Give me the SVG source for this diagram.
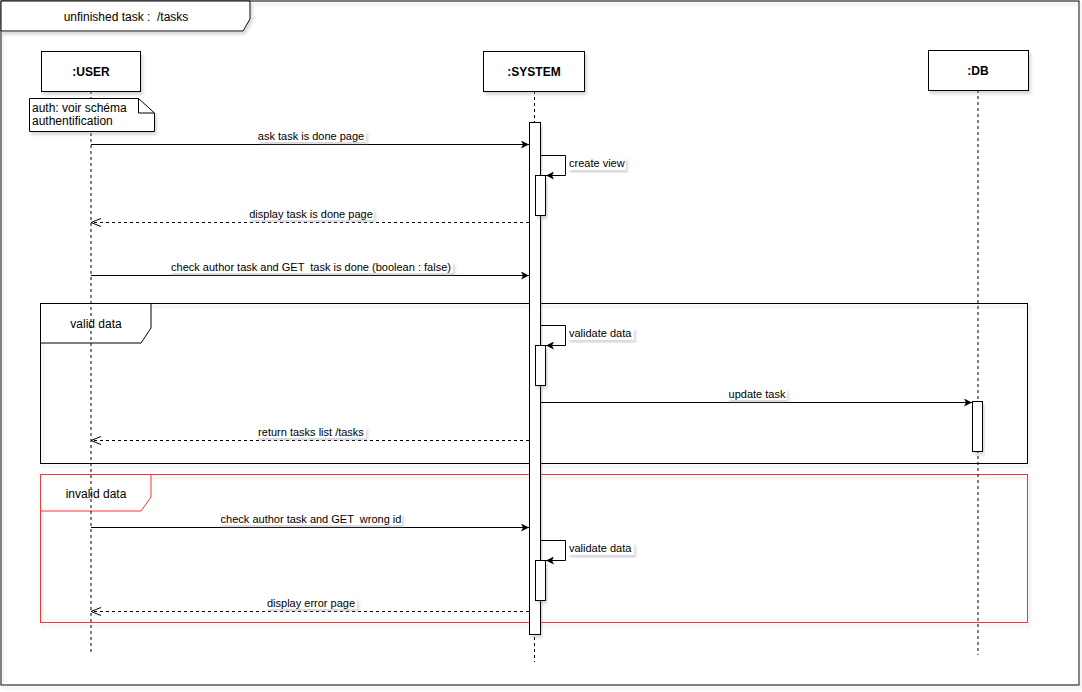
<svg xmlns="http://www.w3.org/2000/svg" width="1082" height="692" viewBox="0 0 1082 692">
<style>
text{font-family:"Liberation Sans",Arial,sans-serif;fill:#000}
.lbl{font-size:11px;text-anchor:middle;white-space:pre}
.slbl{font-size:11px;text-anchor:start}
.big{font-size:12px;text-anchor:middle;white-space:pre}
.bold{font-size:12px;font-weight:bold;text-anchor:middle}
.box{fill:#fff;stroke:#000;stroke-width:1}
.life{stroke:#000;stroke-width:1;stroke-dasharray:3 3;fill:none}
.msg{stroke:#000;stroke-width:1;fill:none}
.ret{stroke:#000;stroke-width:1;stroke-dasharray:3 3;fill:none}
.bg{fill:#fff}
</style>
<defs>
<filter id="sh" x="-20%" y="-20%" width="140%" height="140%">
<feDropShadow dx="2" dy="3" stdDeviation="1.5" flood-color="#808090" flood-opacity="0.3"/>
</filter>
<marker id="blk" viewBox="0 0 10 10" refX="10" refY="5" markerWidth="8" markerHeight="8" markerUnits="userSpaceOnUse" orient="auto">
<path d="M0,0 L10,5 L0,10 L2.5,5 Z" fill="#000"/>
</marker>
<marker id="opn" viewBox="0 0 10 10" refX="10" refY="5" markerWidth="10" markerHeight="10" markerUnits="userSpaceOnUse" orient="auto">
<path d="M0,1 L10,5 L0,9" fill="none" stroke="#000" stroke-width="1"/>
</marker>
</defs>
<rect width="1082" height="692" fill="#fff"/>

<g id="outer-frame">
<rect x="1" y="1" width="1078" height="684" fill="none" stroke="#000" filter="url(#sh)"/>
<path d="M1,1 L250,1 L250,19 L243,31 L1,31 Z" class="box" filter="url(#sh)"/>
<text x="126" y="21" class="big">unfinished task :  /tasks</text>
</g>

<g id="frame-valid">
<rect x="40.5" y="303.5" width="987" height="160" fill="none" stroke="#000" filter="url(#sh)"/>
<path d="M40.5,303.5 L151,303.5 L151,328 L141,343 L40.5,343 Z" class="box"/>
<text x="96" y="328" class="big">valid data</text>
</g>

<g id="frame-invalid">
<rect x="40.5" y="474.5" width="987" height="148" fill="none" stroke="#ff3333" filter="url(#sh)"/>
<path d="M40.5,474.5 L151,474.5 L151,497 L141,511 L40.5,511 Z" fill="#fff" stroke="#ff3333"/>
<text x="96" y="498" class="big">invalid data</text>
</g>

<g id="lifelines">
<line x1="91" y1="91" x2="91" y2="655" class="life"/>
<line x1="534.5" y1="91" x2="534.5" y2="662" class="life"/>
<line x1="978" y1="90" x2="978" y2="655" class="life"/>
</g>

<g id="user">
<rect x="41.5" y="51.5" width="99" height="40" class="box" filter="url(#sh)"/>
<text x="91" y="76" class="bold">:USER</text>
</g>

<g id="system">
<rect x="483.5" y="51.5" width="101" height="40" class="box" filter="url(#sh)"/>
<text x="534" y="76" class="bold">:SYSTEM</text>
</g>

<g id="db">
<rect x="928.5" y="50.5" width="100" height="40" class="box" filter="url(#sh)"/>
<text x="978" y="75" class="bold">:DB</text>
</g>

<g id="note">
<path d="M29.5,98.5 L138.5,98.5 L154.5,113 L154.5,131.5 L29.5,131.5 Z" class="box" filter="url(#sh)"/>
<path d="M138.5,98.5 L138.5,113 L154.5,113" fill="none" stroke="#000"/>
<text x="32" y="112" style="font-size:12px">auth: voir schéma</text>
<text x="32" y="125" style="font-size:12px">authentification</text>
</g>

<g id="activations">
<rect x="529.5" y="122.5" width="11" height="512" class="box" filter="url(#sh)"/>
<rect x="535.5" y="175.5" width="10" height="40" class="box" filter="url(#sh)"/>
<rect x="535.5" y="345.5" width="10" height="40" class="box" filter="url(#sh)"/>
<rect x="535.5" y="560.5" width="10" height="40" class="box" filter="url(#sh)"/>
<rect x="972.5" y="401.5" width="10" height="50" class="box" filter="url(#sh)"/>
</g>

<g id="connectors">
<line x1="91" y1="144.5" x2="529" y2="144.5" class="msg" marker-end="url(#blk)"/>
<rect x="258" y="130" width="108" height="12" class="bg" filter="url(#sh)"/>
<text x="311" y="140" class="lbl">ask task is done page</text>

<path d="M540.5,155.5 L565.5,155.5 L565.5,175.5 L546,175.5" class="msg" marker-end="url(#blk)"/>
<rect x="568" y="157" width="58" height="13" class="bg" filter="url(#sh)"/>
<text x="569" y="167" class="slbl">create view</text>

<line x1="529" y1="222.5" x2="91" y2="222.5" class="ret" marker-end="url(#opn)"/>
<rect x="248" y="208" width="126" height="12" class="bg" filter="url(#sh)"/>
<text x="311" y="218" class="lbl">display task is done page</text>

<line x1="91" y1="275.5" x2="529" y2="275.5" class="msg" marker-end="url(#blk)"/>
<rect x="169" y="261" width="284" height="12" class="bg" filter="url(#sh)"/>
<text x="311" y="271" class="lbl">check author task and GET  task is done (boolean : false)</text>

<path d="M540.5,325.5 L565.5,325.5 L565.5,345.5 L546,345.5" class="msg" marker-end="url(#blk)"/>
<rect x="568" y="327" width="66" height="13" class="bg" filter="url(#sh)"/>
<text x="569" y="337" class="slbl">validate data</text>

<line x1="540" y1="402.5" x2="972" y2="402.5" class="msg" marker-end="url(#blk)"/>
<rect x="727" y="388" width="60" height="12" class="bg" filter="url(#sh)"/>
<text x="757" y="398" class="lbl">update task</text>

<line x1="529" y1="440.5" x2="91" y2="440.5" class="ret" marker-end="url(#opn)"/>
<rect x="256" y="426" width="110" height="12" class="bg" filter="url(#sh)"/>
<text x="311" y="436" class="lbl">return tasks list /tasks</text>

<line x1="91" y1="527.5" x2="529" y2="527.5" class="msg" marker-end="url(#blk)"/>
<rect x="220" y="513" width="182" height="12" class="bg" filter="url(#sh)"/>
<text x="311" y="523" class="lbl">check author task and GET  wrong id</text>

<path d="M540.5,540.5 L565.5,540.5 L565.5,560.5 L546,560.5" class="msg" marker-end="url(#blk)"/>
<rect x="568" y="542" width="66" height="13" class="bg" filter="url(#sh)"/>
<text x="569" y="552" class="slbl">validate data</text>

<line x1="529" y1="611.5" x2="91" y2="611.5" class="ret" marker-end="url(#opn)"/>
<rect x="265" y="597" width="92" height="12" class="bg" filter="url(#sh)"/>
<text x="311" y="607" class="lbl">display error page</text>
</g>
</svg>
